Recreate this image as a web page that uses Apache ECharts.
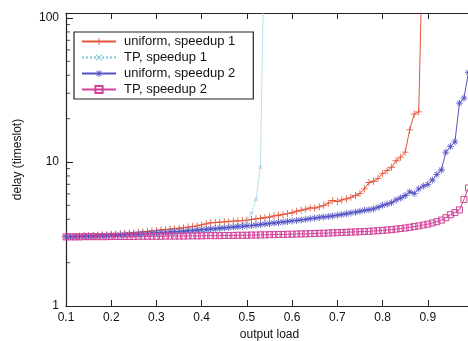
<!DOCTYPE html>
<html>
<head>
<meta charset="utf-8">
<script src="https://cdn.jsdelivr.net/npm/echarts@6/dist/echarts.min.js"></script>
<style>
  html, body { margin: 0; padding: 0; background: #fff; }
  #chart { width: 468px; height: 341px; }
</style>
</head>
<body>
<div id="chart"></div>
<script>
// output load (x)
const loads = [
  0.10, 0.11, 0.12, 0.13, 0.14, 0.15, 0.16, 0.17, 0.18, 0.19,
  0.20, 0.21, 0.22, 0.23, 0.24, 0.25, 0.26, 0.27, 0.28, 0.29,
  0.30, 0.31, 0.32, 0.33, 0.34, 0.35, 0.36, 0.37, 0.38, 0.39,
  0.40, 0.41, 0.42, 0.43, 0.44, 0.45, 0.46, 0.47, 0.48, 0.49,
  0.50, 0.51, 0.52, 0.53, 0.54, 0.55, 0.56, 0.57, 0.58, 0.59,
  0.60, 0.61, 0.62, 0.63, 0.64, 0.65, 0.66, 0.67, 0.68, 0.69,
  0.70, 0.71, 0.72, 0.73, 0.74, 0.75, 0.76, 0.77, 0.78, 0.79,
  0.80, 0.81, 0.82, 0.83, 0.84, 0.85, 0.86, 0.87, 0.88, 0.89,
  0.90, 0.91, 0.92, 0.93, 0.94, 0.95, 0.96, 0.97, 0.98, 0.99
];

// delay (timeslot)
const uniformSpeedup1 = [
  3.03, 3.04, 3.05, 3.06, 3.07, 3.08, 3.09, 3.10, 3.12, 3.13,
  3.15, 3.16, 3.18, 3.20, 3.21, 3.23, 3.25, 3.27, 3.30, 3.32,
  3.35, 3.37, 3.39, 3.42, 3.44, 3.47, 3.50, 3.53, 3.56, 3.60,
  3.66, 3.72, 3.78, 3.80, 3.82, 3.84, 3.86, 3.88, 3.90, 3.92,
  3.95, 3.99, 4.03, 4.07, 4.10, 4.15, 4.22, 4.27, 4.32, 4.38,
  4.44, 4.55, 4.62, 4.70, 4.80, 4.78, 4.88, 5.00, 5.18, 5.40,
  5.32, 5.45, 5.55, 5.68, 5.85, 6.05, 6.50, 7.20, 7.35, 7.70,
  8.30, 8.70, 9.20, 10.2, 10.8, 11.7, 16.7, 21.5, 22.3, 500
];
const tpSpeedup1 = [
  3.03, 3.03, 3.04, 3.04, 3.05, 3.05, 3.06, 3.06, 3.07, 3.08,
  3.09, 3.10, 3.10, 3.11, 3.12, 3.13, 3.14, 3.15, 3.16, 3.17,
  3.18, 3.19, 3.20, 3.21, 3.23, 3.24, 3.26, 3.27, 3.29, 3.31,
  3.33, 3.35, 3.37, 3.40, 3.43, 3.46, 3.50, 3.55, 3.62, 3.72,
  3.90, 4.40, 5.50, 9.20, 700
];
const uniformSpeedup2 = [
  3.02, 3.03, 3.03, 3.04, 3.05, 3.05, 3.06, 3.07, 3.08, 3.09,
  3.10, 3.11, 3.12, 3.13, 3.14, 3.15, 3.16, 3.18, 3.19, 3.20,
  3.22, 3.23, 3.25, 3.26, 3.28, 3.30, 3.31, 3.33, 3.35, 3.37,
  3.39, 3.41, 3.43, 3.45, 3.47, 3.49, 3.51, 3.53, 3.55, 3.57,
  3.60, 3.62, 3.65, 3.68, 3.71, 3.74, 3.77, 3.80, 3.83, 3.86,
  3.90, 3.93, 3.96, 4.00, 4.04, 4.08, 4.12, 4.15, 4.19, 4.22,
  4.27, 4.32, 4.37, 4.43, 4.48, 4.55, 4.62, 4.66, 4.72, 4.85,
  5.00, 5.10, 5.22, 5.45, 5.62, 5.85, 6.20, 6.05, 6.50, 6.80,
  7.00, 7.50, 8.20, 8.80, 11.7, 12.8, 13.8, 25.6, 27.8, 42.0
];
const tpSpeedup2 = [
  3.02, 3.02, 3.02, 3.02, 3.03, 3.03, 3.03, 3.03, 3.03, 3.03,
  3.04, 3.04, 3.04, 3.04, 3.04, 3.04, 3.05, 3.05, 3.05, 3.05,
  3.05, 3.05, 3.06, 3.06, 3.06, 3.06, 3.06, 3.07, 3.07, 3.07,
  3.07, 3.08, 3.08, 3.08, 3.08, 3.09, 3.09, 3.09, 3.10, 3.10,
  3.10, 3.11, 3.11, 3.12, 3.12, 3.13, 3.13, 3.14, 3.14, 3.15,
  3.15, 3.16, 3.17, 3.17, 3.18, 3.19, 3.20, 3.20, 3.21, 3.22,
  3.23, 3.24, 3.25, 3.26, 3.27, 3.28, 3.29, 3.30, 3.32, 3.33,
  3.35, 3.37, 3.39, 3.42, 3.45, 3.48, 3.52, 3.56, 3.60, 3.65,
  3.70, 3.77, 3.85, 3.95, 4.10, 4.30, 4.45, 4.65, 5.50, 6.60
];

const names = ["uniform, speedup 1", "TP, speedup 1", "uniform, speedup 2", "TP, speedup 2"];
// log minor ticks on the delay axis
const minorTicks = [2, 3, 4, 5, 6, 7, 8, 9, 20, 30, 40, 50, 60, 70, 80, 90];

const FONT = "Liberation Sans";
const plusPath = "path://M0,4.4H10V5.6H0Z M4.4,0H5.6V10H4.4Z";
const crossPath = "path://M1.2,1.9L1.9,1.2L8.8,8.1L8.1,8.8Z M8.1,1.2L8.8,1.9L1.9,8.8L1.2,8.1Z";
const starPath = plusPath + " " + crossPath.slice(7);

function pairs(ys) {
  return ys.map((y, i) => [loads[i], y]);
}

let chart = echarts.init(document.getElementById("chart"));

let option = {
  animation: false,
  backgroundColor: "#fff",
  grid: { left: 66, right: -5, top: 13, bottom: 35, outerBoundsMode: "none", containLabel: false },
  legend: {
    data: names,
    orient: "vertical",
    left: 74,
    top: 32,
    padding: [3, 18, 3, 7],
    itemWidth: 34,
    itemHeight: 9,
    itemGap: 3,
    borderColor: "#222",
    borderWidth: 1.2,
    textStyle: { fontFamily: FONT, fontSize: 13, color: "#111", padding: [0, 0, 0, 3] },
  },
  xAxis: [
    {
      type: "value",
      min: 0.1,
      max: 1.0,
      interval: 0.1,
      name: "output load",
      nameLocation: "middle",
      nameGap: 22,
      nameTextStyle: { fontFamily: FONT, fontSize: 12, color: "#111" },
      axisLine: { lineStyle: { color: "#222", width: 1.2 } },
      axisTick: { inside: true, length: 6, lineStyle: { color: "#222" } },
      axisLabel: {
        fontFamily: FONT,
        fontSize: 12,
        color: "#111",
        margin: 6,
        formatter: function (v) {
          return v >= 0.999 ? "" : v.toFixed(1);
        },
      },
      splitLine: { show: false },
    },
    {
      type: "value",
      position: "top",
      min: 0.1,
      max: 1.0,
      interval: 0.1,
      axisLine: { lineStyle: { color: "#222", width: 1.2 } },
      axisTick: { inside: true, length: 6, lineStyle: { color: "#222" } },
      axisLabel: { show: false },
      splitLine: { show: false },
    },
  ],
  yAxis: {
    type: "log",
    logBase: 10,
    min: 1,
    max: 108.3,
    name: "delay (timeslot)",
    nameLocation: "middle",
    nameGap: 42,
    nameTextStyle: { fontFamily: FONT, fontSize: 12, color: "#111" },
    axisLine: { show: true, lineStyle: { color: "#222", width: 1.2 } },
    axisTick: { inside: true, length: 7, lineStyle: { color: "#222" } },
    axisLabel: {
      fontFamily: FONT,
      fontSize: 12,
      color: "#111",
      margin: 7,
      formatter: function (v) {
        return v === 1 || v === 10 || v === 100 ? String(v) : "";
      },
    },
    splitLine: { show: false },
  },
  series: [
    {
      name: names[0],
      type: "line",
      data: pairs(uniformSpeedup1),
      color: "#e4553a",
      symbol: plusPath,
      symbolSize: 7,
      lineStyle: { width: 1 },
      clip: true,
    },
    {
      name: names[1],
      type: "line",
      data: pairs(tpSpeedup1),
      color: "#7cc2da",
      symbol: crossPath,
      symbolSize: 4,
      lineStyle: { width: 1, type: "dotted" },
      clip: true,
    },
    {
      name: names[2],
      type: "line",
      data: pairs(uniformSpeedup2),
      color: "#5453c4",
      symbol: starPath,
      symbolSize: 7,
      lineStyle: { width: 1 },
      clip: true,
    },
    {
      name: names[3],
      type: "line",
      data: pairs(tpSpeedup2),
      color: "#d2419a",
      symbol: "rect",
      symbolSize: 6,
      itemStyle: { color: "rgba(255,255,255,0)", borderColor: "#d2419a", borderWidth: 1 },
      lineStyle: { width: 1, color: "#d2419a" },
      clip: true,
    },
    {
      name: "minor",
      type: "scatter",
      silent: true,
      data: minorTicks.map((v) => [0.1, v]),
      symbol: "rect",
      symbolSize: [4, 1],
      symbolOffset: [2, 0],
      itemStyle: { color: "#222" },
      clip: false,
    },
  ],
};
chart.setOption(option);
</script>
</body>
</html>
